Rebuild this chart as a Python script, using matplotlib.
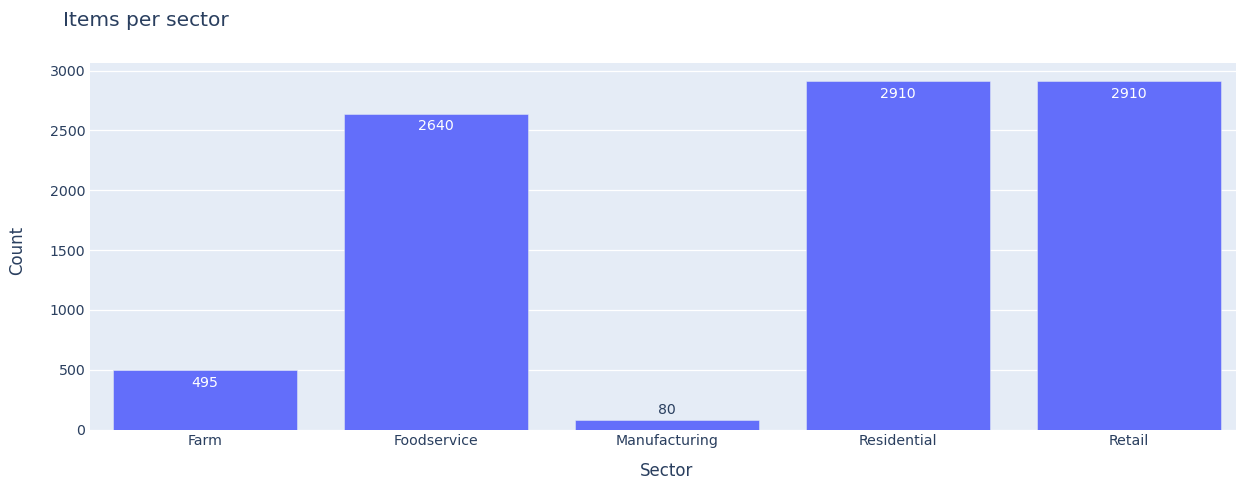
import matplotlib.pyplot as plt

sectors = ["Farm", "Foodservice", "Manufacturing", "Residential", "Retail"]
counts = [495, 2640, 80, 2910, 2910]

TEXT = "#2a3f5f"
BG = "#E5ECF6"
BAR = "#636EFA"

plt.rcParams['font.family'] = ['DejaVu Sans']

fig = plt.figure(figsize=(12.36, 4.8), dpi=100)
ax = fig.add_axes([89.5 / 1236, 50.5 / 480, 1155 / 1236, 366.5 / 480])
ax.set_facecolor(BG)

x = list(range(len(sectors)))
bars = ax.bar(x, counts, width=0.8, color=BAR, edgecolor=BG, linewidth=0.36, zorder=3)

ymax = max(counts) * 1.053
ax.set_xlim(-0.5, len(sectors) - 0.5)
ax.set_ylim(0, ymax)

# value labels: inside the bar when it fits, above it otherwise
px_per_unit = 366.5 / ymax
for xi, v in zip(x, counts):
    if v * px_per_unit > 30:
        ax.annotate(str(v), (xi, v), xytext=(0, -4), textcoords='offset points',
                    ha='center', va='top', color='white', fontsize=10.2, zorder=4)
    else:
        ax.annotate(str(v), (xi, v), xytext=(0, 2), textcoords='offset points',
                    ha='center', va='bottom', color=TEXT, fontsize=10.2, zorder=4)

ax.set_yticks([0, 500, 1000, 1500, 2000, 2500, 3000])
ax.set_xticks(x)
ax.set_xticklabels(sectors)
ax.grid(axis='y', color='white', linewidth=0.9, zorder=1)
ax.tick_params(length=0, labelsize=10.2, labelcolor=TEXT)
ax.tick_params(axis='y', pad=3)
ax.tick_params(axis='x', pad=3)
for s in ax.spines.values():
    s.set_visible(False)

fig.text(63 / 1236, 1 - 20 / 480, "Items per sector", fontsize=14.5,
         color=TEXT, ha='left', va='center')
fig.text(17 / 1236, 1 - 250 / 480, "Count", fontsize=12, color=TEXT,
         rotation=90, ha='center', va='center')
fig.text(667 / 1236, 1 - 471 / 480, "Sector", fontsize=12, color=TEXT,
         ha='center', va='center')

fig.savefig("out.png", dpi=100)
